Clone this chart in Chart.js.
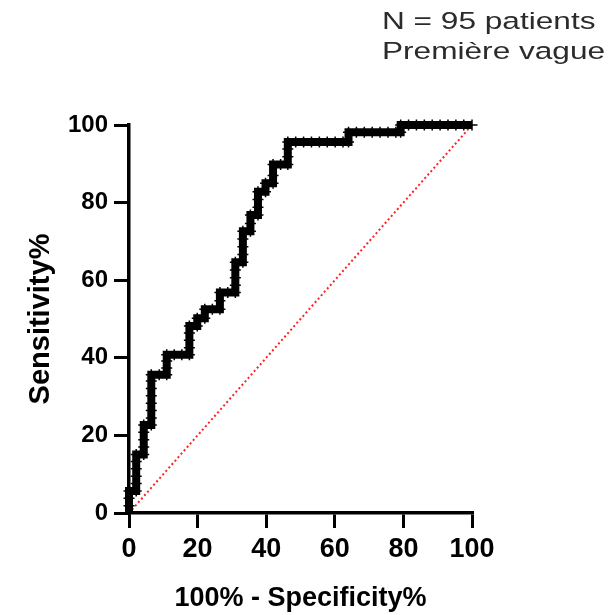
<!DOCTYPE html>
<html>
<head>
<meta charset="utf-8">
<script src="https://cdn.jsdelivr.net/npm/chart.js@4.4.0/dist/chart.umd.min.js"></script>
<style>
  body { margin: 0; background: #fff; }
  #wrap { position: relative; width: 612px; height: 615px; }
  #note {
    position: absolute; left: 382px; top: 6px;
    font-family: 'Liberation Sans', Arial, sans-serif;
    font-size: 24.5px; line-height: 30px; color: #2b2b2b;
    white-space: nowrap;
    transform: scaleX(1.29); transform-origin: left top;
  }
</style>
</head>
<body>
<div id="wrap">
  <canvas id="roc" width="612" height="615"></canvas>
  <div id="note">N = 95 patients<br>Première vague</div>
</div>
<script>
// ROC curve points (100% - specificity, sensitivity)
const rocX = [
  0, 0, 0, 0,
  2.1, 2.1, 2.1, 2.1, 2.1, 2.1,
  4.3, 4.3, 4.3, 4.3, 4.3,
  6.5, 6.5, 6.5, 6.5, 6.5, 6.5, 6.5, 6.5,
  8.8, 11, 11, 11, 11,
  13.2, 15.4, 17.6, 17.6, 17.6, 17.6, 17.6,
  19.9, 19.9, 22.1, 22.1,
  24.3, 26.5, 26.5, 26.5,
  28.8, 31, 31, 31, 31, 31,
  33.2, 33.2, 33.2, 33.2, 33.2,
  35.4, 35.4, 35.4,
  37.6, 37.6, 37.6, 37.6,
  39.8, 39.8, 42, 42, 42,
  44.2, 46.3, 46.3, 46.3, 46.3,
  48.6, 50.9, 53.2, 55.5, 57.8, 60.1, 62.4, 64, 64,
  66.3, 68.6, 70.9, 73.2, 75.5, 77.8, 79.2, 79.2,
  81.5, 83.8, 86.1, 88.4, 90.7, 93, 95.3, 97.6, 100
];
const rocY = [
  0, 1.9, 3.8, 5.7,
  5.7, 7.6, 9.5, 11.4, 13.3, 15.1,
  15.1, 17, 18.9, 20.8, 22.7,
  22.7, 24.5, 26.4, 28.3, 30.2, 32.1, 34, 35.6,
  35.6, 35.6, 37.4, 39.2, 40.8,
  40.8, 40.8, 40.8, 42.6, 44.5, 46.4, 48.2,
  48.2, 50.2, 50.2, 52.5,
  52.5, 52.5, 54.7, 56.8,
  56.8, 56.8, 58.7, 60.6, 62.6, 64.6,
  64.6, 66.6, 68.6, 70.6, 72.6,
  72.6, 74.6, 76.8,
  76.8, 78.8, 80.8, 82.8,
  82.8, 85, 85, 87, 89.8,
  89.8, 89.8, 91.8, 93.8, 95.6,
  95.6, 95.6, 95.6, 95.6, 95.6, 95.6, 95.6, 95.6, 98.1,
  98.1, 98.1, 98.1, 98.1, 98.1, 98.1, 98.1, 100,
  100, 100, 100, 100, 100, 100, 100, 100, 100
];
// line of no discrimination
const chanceX = [0, 100];
const chanceY = [0, 100];
const axisTicks = [0, 20, 40, 60, 80, 100];

const FONT = "'Liberation Sans', Arial, sans-serif";
const toPoints = (xs, ys) => xs.map((x, i) => ({ x: x, y: ys[i] }));

const axisBase = {
  type: 'linear', min: 0, max: 100,
  afterBuildTicks: s => { s.ticks = axisTicks.map(v => ({ value: v })); },
  grid: { drawOnChartArea: false, drawTicks: true, tickLength: 15, color: '#000', lineWidth: 3 },
  border: { color: '#000', width: 3.5 }
};

new Chart(document.getElementById('roc'), {
  type: 'scatter',
  data: {
    datasets: [{
      data: toPoints(rocX, rocY),
      showLine: true,
      borderColor: '#000',
      borderWidth: 8,
      pointStyle: 'cross',
      pointRadius: 5.5,
      pointBorderWidth: 1.5,
      pointBorderColor: '#000',
      clip: false,
      order: 0
    }, {
      data: toPoints(chanceX, chanceY),
      showLine: true,
      borderColor: '#ff2020',
      borderWidth: 2,
      borderDash: [2, 2.6],
      pointRadius: 0,
      clip: false,
      order: 1
    }]
  },
  options: {
    responsive: false,
    animation: false,
    layout: { padding: { left: 0, right: 140, top: 125, bottom: 0 } },
    plugins: { legend: { display: false }, tooltip: { enabled: false } },
    scales: {
      x: {
        ...axisBase,
        ticks: { color: '#000', padding: 5, font: { family: FONT, size: 27, weight: 'bold' } },
        title: { display: true, text: '100% - Specificity%', color: '#000',
                 padding: { top: 0, bottom: 0 }, font: { family: FONT, size: 27, weight: 'bold' } },
        afterFit: s => { s.height = 102; }
      },
      y: {
        ...axisBase,
        ticks: { color: '#000', padding: 6, font: { family: FONT, size: 24, weight: 'bold' } },
        title: { display: true, text: 'Sensitivity%', color: '#000',
                 padding: { top: 24, bottom: 0 }, font: { family: FONT, size: 29, weight: 'bold' } },
        afterFit: s => { s.width = 129; }
      }
    }
  }
});
</script>
</body>
</html>
